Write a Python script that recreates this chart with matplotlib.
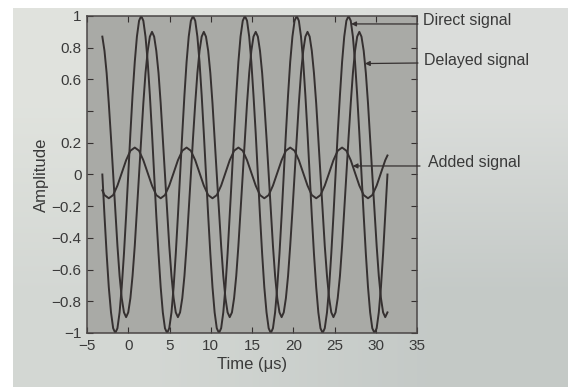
import numpy as np
import matplotlib
matplotlib.use("Agg")
import matplotlib.pyplot as plt

plt.rcParams['font.family'] = ['Liberation Sans', 'DejaVu Sans']

# time samples (us)
t_us = [-3.14, -2.88, -2.62, -2.36, -2.09, -1.83, -1.57, -1.31, -1.05, -0.79, -0.52, -0.26,
        0.00, 0.26, 0.52, 0.79, 1.05, 1.31, 1.57, 1.83, 2.09, 2.36, 2.62, 2.88,
        3.14, 3.40, 3.67, 3.93, 4.19, 4.45, 4.71, 4.97, 5.24, 5.50, 5.76, 6.02,
        6.28, 6.55, 6.81, 7.07, 7.33, 7.59, 7.85, 8.12, 8.38, 8.64, 8.90, 9.16,
        9.42, 9.69, 9.95, 10.21, 10.47, 10.73, 11.00, 11.26, 11.52, 11.78, 12.04, 12.30,
        12.57, 12.83, 13.09, 13.35, 13.61, 13.88, 14.14, 14.40, 14.66, 14.92, 15.18, 15.45,
        15.71, 15.97, 16.23, 16.49, 16.76, 17.02, 17.28, 17.54, 17.80, 18.06, 18.33, 18.59,
        18.85, 19.11, 19.37, 19.63, 19.90, 20.16, 20.42, 20.68, 20.94, 21.21, 21.47, 21.73,
        21.99, 22.25, 22.51, 22.78, 23.04, 23.30, 23.56, 23.82, 24.09, 24.35, 24.61, 24.87,
        25.13, 25.39, 25.66, 25.92, 26.18, 26.44, 26.70, 26.97, 27.23, 27.49, 27.75, 28.01,
        28.27, 28.54, 28.80, 29.06, 29.32, 29.58, 29.85, 30.11, 30.37, 30.63, 30.89, 31.15,
        31.42]

direct = [0, -0.26, -0.50, -0.71, -0.87, -0.97, -1, -0.97, -0.87, -0.71, -0.50, -0.26,
          0, 0.26, 0.50, 0.71, 0.87, 0.97, 1, 0.97, 0.87, 0.71, 0.50, 0.26,
          0, -0.26, -0.50, -0.71, -0.87, -0.97, -1, -0.97, -0.87, -0.71, -0.50, -0.26,
          0, 0.26, 0.50, 0.71, 0.87, 0.97, 1, 0.97, 0.87, 0.71, 0.50, 0.26,
          0, -0.26, -0.50, -0.71, -0.87, -0.97, -1, -0.97, -0.87, -0.71, -0.50, -0.26,
          0, 0.26, 0.50, 0.71, 0.87, 0.97, 1, 0.97, 0.87, 0.71, 0.50, 0.26,
          0, -0.26, -0.50, -0.71, -0.87, -0.97, -1, -0.97, -0.87, -0.71, -0.50, -0.26,
          0, 0.26, 0.50, 0.71, 0.87, 0.97, 1, 0.97, 0.87, 0.71, 0.50, 0.26,
          0, -0.26, -0.50, -0.71, -0.87, -0.97, -1, -0.97, -0.87, -0.71, -0.50, -0.26,
          0, 0.26, 0.50, 0.71, 0.87, 0.97, 1, 0.97, 0.87, 0.71, 0.50, 0.26,
          0, -0.26, -0.50, -0.71, -0.87, -0.97, -1, -0.97, -0.87, -0.71, -0.50, -0.26,
          0]

delayed = [0.87, 0.78, 0.64, 0.45, 0.23, 0, -0.23, -0.45, -0.64, -0.78, -0.87, -0.90,
           -0.87, -0.78, -0.64, -0.45, -0.23, 0, 0.23, 0.45, 0.64, 0.78, 0.87, 0.90,
           0.87, 0.78, 0.64, 0.45, 0.23, 0, -0.23, -0.45, -0.64, -0.78, -0.87, -0.90,
           -0.87, -0.78, -0.64, -0.45, -0.23, 0, 0.23, 0.45, 0.64, 0.78, 0.87, 0.90,
           0.87, 0.78, 0.64, 0.45, 0.23, 0, -0.23, -0.45, -0.64, -0.78, -0.87, -0.90,
           -0.87, -0.78, -0.64, -0.45, -0.23, 0, 0.23, 0.45, 0.64, 0.78, 0.87, 0.90,
           0.87, 0.78, 0.64, 0.45, 0.23, 0, -0.23, -0.45, -0.64, -0.78, -0.87, -0.90,
           -0.87, -0.78, -0.64, -0.45, -0.23, 0, 0.23, 0.45, 0.64, 0.78, 0.87, 0.90,
           0.87, 0.78, 0.64, 0.45, 0.23, 0, -0.23, -0.45, -0.64, -0.78, -0.87, -0.90,
           -0.87, -0.78, -0.64, -0.45, -0.23, 0, 0.23, 0.45, 0.64, 0.78, 0.87, 0.90,
           0.87, 0.78, 0.64, 0.45, 0.23, 0, -0.23, -0.45, -0.64, -0.78, -0.87, -0.90,
           -0.87]

added = [-0.10, -0.13, -0.14, -0.15, -0.14, -0.13, -0.10, -0.07, -0.03, 0.01, 0.05, 0.09,
         0.12, 0.15, 0.16, 0.17, 0.16, 0.15, 0.12, 0.09, 0.05, 0.01, -0.03, -0.07,
         -0.10, -0.13, -0.14, -0.15, -0.14, -0.13, -0.10, -0.07, -0.03, 0.01, 0.05, 0.09,
         0.12, 0.15, 0.16, 0.17, 0.16, 0.15, 0.12, 0.09, 0.05, 0.01, -0.03, -0.07,
         -0.10, -0.13, -0.14, -0.15, -0.14, -0.13, -0.10, -0.07, -0.03, 0.01, 0.05, 0.09,
         0.12, 0.15, 0.16, 0.17, 0.16, 0.15, 0.12, 0.09, 0.05, 0.01, -0.03, -0.07,
         -0.10, -0.13, -0.14, -0.15, -0.14, -0.13, -0.10, -0.07, -0.03, 0.01, 0.05, 0.09,
         0.12, 0.15, 0.16, 0.17, 0.16, 0.15, 0.12, 0.09, 0.05, 0.01, -0.03, -0.07,
         -0.10, -0.13, -0.14, -0.15, -0.14, -0.13, -0.10, -0.07, -0.03, 0.01, 0.05, 0.09,
         0.12, 0.15, 0.16, 0.17, 0.16, 0.15, 0.12, 0.09, 0.05, 0.01, -0.03, -0.07,
         -0.10, -0.13, -0.14, -0.15, -0.14, -0.13, -0.10, -0.07, -0.03, 0.01, 0.05, 0.09,
         0.12]

x_ticks = [-5, 0, 5, 10, 15, 20, 25, 30, 35]
y_ticks = [-1, -0.8, -0.6, -0.4, -0.2, 0, 0.2, 0.4, 0.6, 0.8, 1]
y_labels = ['\u22121', '\u22120.8', '\u22120.6', '\u22120.4', '\u22120.2', '0',
            '0.2', '', '0.6', '0.8', '1']

ink = '#353030'
txt = '#3a3a3a'

fig = plt.figure(figsize=(5.68, 3.87), dpi=100, facecolor='white')

# photo paper background (light, darker towards lower right)
bg = fig.add_axes([13 / 568, 0, 1 - 13 / 568, 1 - 8 / 387])
shade = np.array([[[0.88, 0.89, 0.87], [0.86, 0.87, 0.86]],
                  [[0.83, 0.845, 0.83], [0.77, 0.79, 0.78]]])
bg.imshow(shade, aspect='auto', interpolation='bilinear', extent=[0, 1, 0, 1])
bg.set_axis_off()

ax = fig.add_axes([87 / 568, 1 - 333 / 387, 330 / 568, 317 / 387])
ax.set_facecolor('#a9aaa6')

ax.plot(t_us, direct, color=ink, lw=1.4)
ax.plot(t_us, delayed, color=ink, lw=1.4)
ax.plot(t_us, added, color=ink, lw=1.4)

ax.set_xlim(-5, 35)
ax.set_ylim(-1, 1)
ax.set_xticks(x_ticks)
ax.set_xticklabels([str(v).replace('-', '\u2212') for v in x_ticks])
ax.set_yticks(y_ticks)
ax.set_yticklabels(y_labels)
ax.tick_params(direction='in', length=4, width=0.8, color=ink, labelcolor=txt,
               labelsize=11, top=True, right=True, pad=4)
for s in ax.spines.values():
    s.set_color('#4a4646')
    s.set_linewidth(1.1)

ax.set_xlabel('Time (\u03bcs)', fontsize=12, color=txt, labelpad=3)
ax.set_ylabel('Amplitude', fontsize=12, color=txt, labelpad=2)

# leader lines to the curves
arrow = dict(arrowstyle='-|>', color=ink, lw=0.9, mutation_scale=7, shrinkA=0, shrinkB=0)
ax.annotate('', xy=(27.02, 0.95), xytext=(418, 363), textcoords='figure pixels',
            arrowprops=arrow, annotation_clip=False)
ax.annotate('', xy=(28.69, 0.70), xytext=(418, 324), textcoords='figure pixels',
            arrowprops=arrow, annotation_clip=False)
ax.annotate('', xy=(27.2, 0.054), xytext=(420, 221), textcoords='figure pixels',
            arrowprops=arrow, annotation_clip=False)

fig.text(423 / 568, 1 - 20 / 387, 'Direct signal', fontsize=11.5, color=txt, va='center')
fig.text(424 / 568, 1 - 60 / 387, 'Delayed signal', fontsize=11.5, color=txt, va='center')
fig.text(428 / 568, 1 - 163 / 387, 'Added signal', fontsize=11.5, color=txt, va='center')

fig.savefig('out.png', dpi=100, facecolor=fig.get_facecolor())
